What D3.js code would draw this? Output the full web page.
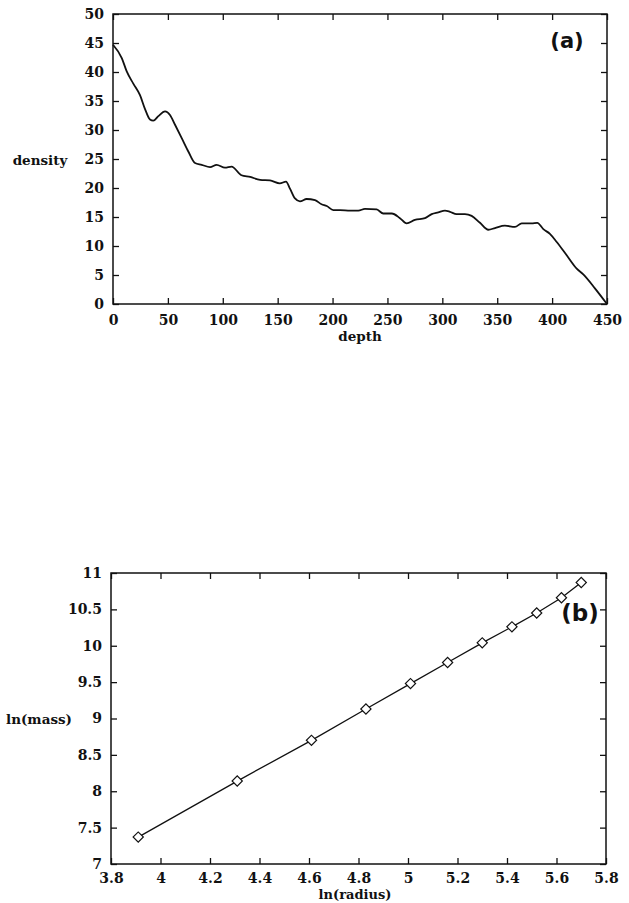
<!DOCTYPE html>
<html>
<head>
<meta charset="utf-8">
<script src="https://cdn.jsdelivr.net/npm/d3@7"></script>
<style>
  body { margin: 0; background: #fff; }
  svg text { font-family: "DejaVu Serif", "Liberation Serif", serif; font-weight: bold; fill: #111; }
</style>
</head>
<body>
<svg id="chart" width="629" height="903"></svg>
<script>
// (a) density profile
var depth = [0, 8, 12.5, 18.5, 24.6, 29, 33.7, 36.7, 41.3, 47.4, 51.9, 56.5, 62.6, 68.6, 74.7, 80.8, 88.4, 94.4, 102, 108,
  117, 125, 134, 143, 152, 157.6, 161.2, 165.8, 170.3, 176.4, 184, 190, 194.7, 200.7, 206.8, 216, 223.5, 229.5, 240.2, 246.2,
  254, 261.4, 267.5, 275, 284.2, 290.3, 296.3, 302.4, 307, 313, 320.6, 326.7, 334.3, 341.9, 348, 357, 366.2, 372.3, 381.4, 386.5,
  392, 398, 404.2, 413.3, 422.4, 428.4, 439, 450];
var density = [44.7, 42.4, 40.1, 38.0, 36.0, 33.7, 31.8, 31.6, 32.4, 33.2, 32.6, 30.9, 28.6, 26.3, 24.3, 24.0, 23.6, 24.0, 23.5, 23.7,
  22.2, 21.9, 21.4, 21.3, 20.8, 21.1, 19.9, 18.2, 17.7, 18.1, 17.9, 17.2, 16.9, 16.2, 16.2, 16.1, 16.1, 16.4, 16.3, 15.6,
  15.6, 14.8, 13.9, 14.5, 14.8, 15.5, 15.8, 16.1, 15.9, 15.5, 15.5, 15.2, 14.0, 12.8, 13.1, 13.5, 13.3, 13.9, 13.9, 14.0,
  12.9, 12.1, 10.7, 8.4, 6.1, 5.1, 2.7, 0];
var depthTicks = [0, 50, 100, 150, 200, 250, 300, 350, 400, 450];
var densityTicks = [0, 5, 10, 15, 20, 25, 30, 35, 40, 45, 50];

// (b) ln(mass) vs ln(radius)
var lnRadius = [3.91, 4.31, 4.61, 4.83, 5.01, 5.16, 5.30, 5.42, 5.52, 5.62, 5.70];
var lnMass = [7.37, 8.14, 8.70, 9.13, 9.48, 9.77, 10.04, 10.26, 10.45, 10.66, 10.87];
var radiusTicks = [3.8, 4, 4.2, 4.4, 4.6, 4.8, 5, 5.2, 5.4, 5.6, 5.8];
var massTicks = [7, 7.5, 8, 8.5, 9, 9.5, 10, 10.5, 11];

var svg = d3.select("#chart");
var TICK = 6;

// draws a boxed frame with inward ticks on all four sides
function frame(g, x, y, xt, yt, fmt, padX) {
  var x0 = x.range()[0], x1 = x.range()[1], y0 = y.range()[0], y1 = y.range()[1];
  g.append("g").attr("transform", "translate(0," + y0 + ")")
    .call(d3.axisBottom(x).tickValues(xt).tickSize(-TICK).tickSizeOuter(0).tickPadding(padX).tickFormat(fmt))
    .call(s => s.select(".domain").remove());
  g.append("g").attr("transform", "translate(0," + y1 + ")")
    .call(d3.axisTop(x).tickValues(xt).tickSize(-TICK).tickSizeOuter(0).tickFormat(""))
    .call(s => s.select(".domain").remove());
  g.append("g").attr("transform", "translate(" + x0 + ",0)")
    .call(d3.axisLeft(y).tickValues(yt).tickSize(-TICK).tickSizeOuter(0).tickPadding(9).tickFormat(fmt))
    .call(s => s.select(".domain").remove());
  g.append("g").attr("transform", "translate(" + x1 + ",0)")
    .call(d3.axisRight(y).tickValues(yt).tickSize(-TICK).tickSizeOuter(0).tickFormat(""))
    .call(s => s.select(".domain").remove());
  g.selectAll(".tick line").attr("stroke", "#111").attr("stroke-width", 1.3);
  g.selectAll(".tick text").attr("font-size", 14).attr("fill", "#111")
    .attr("font-family", "DejaVu Serif, serif").attr("font-weight", "bold");
  g.append("rect").attr("x", x0).attr("y", y1).attr("width", x1 - x0).attr("height", y0 - y1)
    .attr("fill", "none").attr("stroke", "#111").attr("stroke-width", 1.5);
}

// ---- top panel
var xa = d3.scaleLinear().domain([0, 450]).range([113, 607]);
var ya = d3.scaleLinear().domain([0, 50]).range([304, 14]);
var ga = svg.append("g");
frame(ga, xa, ya, depthTicks, densityTicks, d3.format("d"), 11);

var lineA = d3.line().x(d => xa(d[0])).y(d => ya(d[1])).curve(d3.curveMonotoneX);
ga.append("path").datum(depth.map((d, i) => [d, density[i]]))
  .attr("d", lineA).attr("fill", "none").attr("stroke", "#111").attr("stroke-width", 1.8);

ga.append("text").attr("x", 40).attr("y", 165).attr("text-anchor", "middle").attr("font-size", 13.5).text("density");
ga.append("text").attr("x", 360).attr("y", 341).attr("text-anchor", "middle").attr("font-size", 13.5).text("depth");
ga.append("text").attr("x", 567).attr("y", 48).attr("text-anchor", "middle").attr("font-size", 21)
  .style("font-family", "DejaVu Sans, sans-serif").text("(a)");

// ---- bottom panel
var xb = d3.scaleLinear().domain([3.8, 5.8]).range([111, 606]);
var yb = d3.scaleLinear().domain([7, 11]).range([864, 573]);
var gb = svg.append("g");
frame(gb, xb, yb, radiusTicks, massTicks, d => d3.format("")(+d.toFixed(1)), 9);

var pts = lnRadius.map((d, i) => [d, lnMass[i]]);
gb.append("path").datum(pts)
  .attr("d", d3.line().x(d => xb(d[0])).y(d => yb(d[1])))
  .attr("fill", "none").attr("stroke", "#111").attr("stroke-width", 1.3);
gb.selectAll(".pt").data(pts).join("path").attr("class", "pt")
  .attr("d", d3.symbol(d3.symbolSquare, 52))
  .attr("transform", d => "translate(" + xb(d[0]) + "," + yb(d[1]) + ") rotate(45)")
  .attr("fill", "#fff").attr("stroke", "#111").attr("stroke-width", 1.2);

gb.append("text").attr("x", 39).attr("y", 724).attr("text-anchor", "middle").attr("font-size", 13.5).text("ln(mass)");
gb.append("text").attr("x", 355).attr("y", 899).attr("text-anchor", "middle").attr("font-size", 13).text("ln(radius)");
gb.append("text").attr("x", 580).attr("y", 621).attr("text-anchor", "middle").attr("font-size", 23)
  .style("font-family", "DejaVu Sans, sans-serif").text("(b)");
</script>
</body>
</html>
